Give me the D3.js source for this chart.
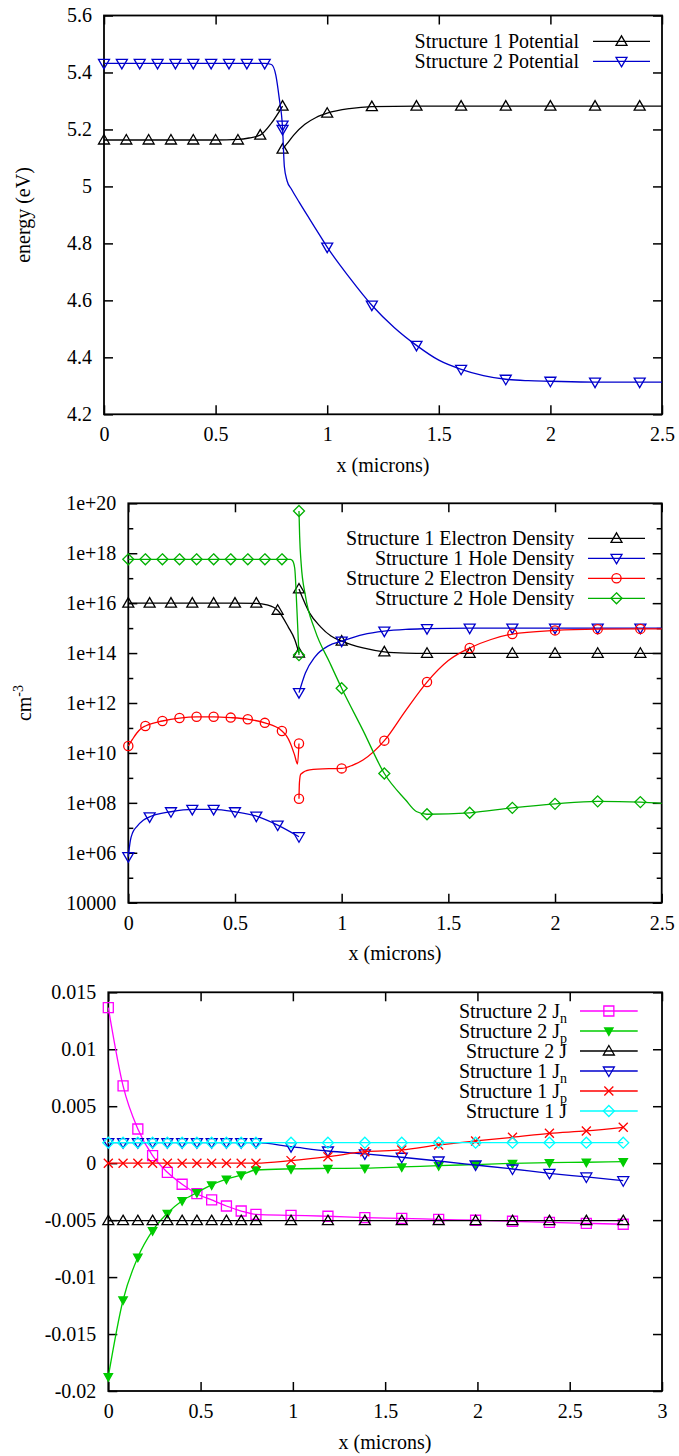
<!DOCTYPE html>
<html lang="en">
<head>
<meta charset="UTF-8">
<title>Structure potentials, densities and currents</title>
<script src="https://cdn.jsdelivr.net/npm/d3@7"></script>
<style>
  body { margin: 0; background: #fff; }
  text { font-family: "Liberation Serif", "Times New Roman", serif; font-size: 20px; fill: #000; }
</style>
</head>
<body>
<svg id="chart" width="679" height="1456"></svg>
<script>
// ---------- panel 1: potential (eV) ----------
const xTicks1 = [0, 0.5, 1, 1.5, 2, 2.5];
const yTicks1 = [4.2, 4.4, 4.6, 4.8, 5, 5.2, 5.4, 5.6];
// line segments (the two structures meet at x = 0.8)
const pot1Curve = [
  [[0,5.163],[0.1,5.163],[0.2,5.163],[0.3,5.163],[0.4,5.163],[0.5,5.163],[0.6,5.165],[0.65,5.17],[0.7,5.18],[0.75,5.222],[0.8,5.282]],
  [[0.8,5.131],[0.82,5.15],[0.85,5.18],[0.9,5.218],[0.95,5.242],[1.0,5.257],[1.1,5.273],[1.2,5.28],[1.4,5.282],[2.5,5.282]]
];
const pot1MarkX = [0,0.1,0.2,0.3,0.4,0.5,0.6,0.7,0.8,0.8,1.0,1.2,1.4,1.6,1.8,2.0,2.2,2.4];
const pot1MarkY = [5.163,5.163,5.163,5.163,5.163,5.163,5.163,5.18,5.282,5.131,5.257,5.28,5.282,5.282,5.282,5.282,5.282,5.282];
const pot2Curve = [
  [[0,5.432],[0.72,5.432],[0.75,5.428],[0.77,5.39],[0.785,5.31],[0.8,5.205],[0.808,5.07],[0.82,5.02],[0.84,4.99],[0.875,4.944],[0.92,4.887],[0.96,4.837],[1.0,4.787],[1.1,4.68],[1.2,4.583],[1.3,4.505],[1.4,4.442],[1.5,4.39],[1.6,4.358],[1.7,4.336],[1.8,4.323],[1.9,4.318],[2.0,4.316],[2.2,4.313],[2.5,4.313]]
];
const pot2MarkX = [0,0.08,0.16,0.24,0.32,0.4,0.48,0.56,0.64,0.72,0.8,0.8,1.0,1.2,1.4,1.6,1.8,2.0,2.2,2.4];
const pot2MarkY = [5.432,5.432,5.432,5.432,5.432,5.432,5.432,5.432,5.432,5.432,5.215,5.2,4.787,4.583,4.442,4.358,4.323,4.316,4.313,4.313];

// ---------- panel 2: carrier densities (cm^-3) ----------
const xTicks2 = [0, 0.5, 1, 1.5, 2, 2.5];
const yTicks2 = [1e4, 1e6, 1e8, 1e10, 1e12, 1e14, 1e16, 1e18, 1e20];
const yMinor2 = [1e5, 1e7, 1e9, 1e11, 1e13, 1e15, 1e17, 1e19];
const n1Curve = [
  [[0,1e16],[0.1,1e16],[0.2,1e16],[0.3,1e16],[0.4,1e16],[0.5,1e16],[0.6,9.8e15],[0.65,8.5e15],[0.7,5.2e15],[0.75,1.1e15],[0.78,3.5e14],[0.8,1e14]],
  [[0.8,3.7e16],[0.85,4e15],[0.9,1.15e15],[0.95,4.8e14],[1.0,3e14],[1.1,1.6e14],[1.2,1.12e14],[1.3,1e14],[1.4,9.8e13],[2.5,9.8e13]]
];
const n1MarkX = [0,0.1,0.2,0.3,0.4,0.5,0.6,0.7,0.8,0.8,1.0,1.2,1.4,1.6,1.8,2.0,2.2,2.4];
const n1MarkY = [1e16,1e16,1e16,1e16,1e16,1e16,1e16,5.2e15,1e14,3.7e16,3e14,1.12e14,9.8e13,9.8e13,9.8e13,9.8e13,9.8e13,9.8e13];
const p1Curve = [
  [[0,7e5],[0.01,3.2e6],[0.02,6.3e6],[0.04,1.12e7],[0.07,2e7],[0.1,2.75e7],[0.2,4.4e7],[0.3,5.5e7],[0.4,5.5e7],[0.5,4.4e7],[0.6,2.95e7],[0.7,1.29e7],[0.8,4.4e6]],
  [[0.8,2.6e12],[0.83,1.6e13],[0.875,7.1e13],[0.94,2e14],[1.0,3e14],[1.1,5.5e14],[1.2,7.6e14],[1.3,8.9e14],[1.4,9.5e14],[1.6,1e15],[2.5,1e15]]
];
const p1MarkX = [0,0.1,0.2,0.3,0.4,0.5,0.6,0.7,0.8,0.8,1.0,1.2,1.4,1.6,1.8,2.0,2.2,2.4];
const p1MarkY = [7e5,2.75e7,4.4e7,5.5e7,5.5e7,4.4e7,2.95e7,1.29e7,4.4e6,2.6e12,3e14,7.6e14,9.5e14,1e15,1e15,1e15,1e15,1e15];
const n2Curve = [
  [[0,1.9e10],[0.02,3.55e10],[0.04,6.3e10],[0.06,9.5e10],[0.08,1.2e11],[0.16,1.9e11],[0.24,2.5e11],[0.32,2.8e11],[0.4,2.8e11],[0.48,2.6e11],[0.56,2.24e11],[0.64,1.6e11],[0.72,7.6e10],[0.74,5e10],[0.76,2.4e10],[0.78,7.9e9],[0.793,3.6e9],[0.8,2.4e10]],
  [[0.8,1.45e8],[0.802,6.3e8],[0.808,1.4e9],[0.85,2.1e9],[0.95,2.35e9],[1.0,2.4e9],[1.05,3.2e9],[1.1,5.2e9],[1.2,3.1e10],[1.3,5e11],[1.4,6.9e12],[1.5,5e13],[1.6,1.6e14],[1.7,3.5e14],[1.8,5.8e14],[2.0,8.1e14],[2.2,9.1e14],[2.4,9.3e14],[2.5,9.3e14]]
];
const n2MarkX = [0,0.08,0.16,0.24,0.32,0.4,0.48,0.56,0.64,0.72,0.8,0.8,1.0,1.2,1.4,1.6,1.8,2.0,2.2,2.4];
const n2MarkY = [1.9e10,1.2e11,1.9e11,2.5e11,2.8e11,2.8e11,2.6e11,2.24e11,1.6e11,7.6e10,2.4e10,1.45e8,2.4e9,3.1e10,6.9e12,1.6e14,5.8e14,8.1e14,9.1e14,9.3e14];
const p2Curve = [
  [[0,5.7e17],[0.76,5.7e17],[0.77,5e17],[0.78,2.5e17],[0.79,6.3e15],[0.8,8.3e13]],
  [[0.8,4.9e19],[0.803,5e18],[0.81,4e17],[0.83,2e16],[0.875,8.3e14],[0.945,4e13],[1.0,3.9e12],[1.1,8e10],[1.2,1.5e9],[1.3,1.3e8],[1.35,4.5e7],[1.4,3.5e7],[1.6,4e7],[1.8,6.3e7],[2.0,9.1e7],[2.2,1.15e8],[2.4,1.07e8],[2.5,9.5e7]]
];
const p2MarkX = [0,0.08,0.16,0.24,0.32,0.4,0.48,0.56,0.64,0.72,0.8,0.8,1.0,1.2,1.4,1.6,1.8,2.0,2.2,2.4];
const p2MarkY = [5.7e17,5.7e17,5.7e17,5.7e17,5.7e17,5.7e17,5.7e17,5.7e17,5.7e17,5.7e17,8.3e13,4.9e19,3.9e12,1.5e9,3.5e7,4e7,6.3e7,9.1e7,1.15e8,1.07e8];

// ---------- panel 3: current densities ----------
const xTicks3 = [0, 0.5, 1, 1.5, 2, 2.5, 3];
const yTicks3 = [-0.02, -0.015, -0.01, -0.005, 0, 0.005, 0.01, 0.015];
const jX = [0,0.08,0.16,0.24,0.32,0.4,0.48,0.56,0.64,0.72,0.8,0.99,1.19,1.39,1.59,1.79,1.99,2.19,2.39,2.59,2.79];
const jn2 = [0.01365,0.00678,0.003,0.00066,-0.0008,-0.00185,-0.00268,-0.00323,-0.00376,-0.0042,-0.00449,-0.00458,-0.00466,-0.00478,-0.00484,-0.00493,-0.00501,-0.0051,-0.00519,-0.00528,-0.00536];
const jp2 = [-0.01874,-0.01201,-0.00826,-0.00592,-0.0044,-0.0033,-0.00259,-0.00191,-0.00141,-0.00104,-0.0006,-0.0005,-0.00046,-0.00043,-0.00033,-0.00022,-0.00012,-0.00002,0.00004,0.00008,0.00013];
const jt2 = [-0.00505,-0.00505,-0.00505,-0.00505,-0.00505,-0.00505,-0.00505,-0.00505,-0.00505,-0.00505,-0.00505,-0.00505,-0.00505,-0.00505,-0.00505,-0.00505,-0.00505,-0.00505,-0.00505,-0.00505,-0.00505];
const jn1 = [0.0018,0.0018,0.0018,0.0018,0.0018,0.0018,0.0018,0.0018,0.0018,0.0018,0.0018,0.00145,0.00107,0.00081,0.00052,0.00019,-0.00016,-0.00051,-0.00089,-0.00121,-0.00154];
const jp1 = [0,0,0,0,0,0,0,0,0,0,0,0.00022,0.00057,0.00101,0.00116,0.0016,0.00195,0.00227,0.00262,0.00283,0.00315];
const jt1 = [0.0018,0.0018,0.0018,0.0018,0.0018,0.0018,0.0018,0.0018,0.0018,0.0018,0.0018,0.0018,0.0018,0.0018,0.0018,0.0018,0.0018,0.0018,0.0018,0.0018,0.0018];

const BLACK = "#000000", BLUE = "#0000cc", RED = "#ff0000", GREEN2 = "#00b000", GREEN3 = "#00cc00", MAGENTA = "#ff00ff", CYAN = "#00ffff";

const svg = d3.select("#chart");

// gnuplot-ish point types
function marker(g, type, cx, cy, color) {
  let p;
  if (type === "up") p = `M${cx},${cy-5.5}L${cx+5.5},${cy+4}L${cx-5.5},${cy+4}Z`;
  else if (type === "down") p = `M${cx},${cy+5.5}L${cx+5.5},${cy-4}L${cx-5.5},${cy-4}Z`;
  else if (type === "fdown") p = `M${cx},${cy+4.5}L${cx+4.2},${cy-3}L${cx-4.2},${cy-3}Z`;
  else if (type === "diamond") p = `M${cx},${cy-5.5}L${cx+5.5},${cy}L${cx},${cy+5.5}L${cx-5.5},${cy}Z`;
  else if (type === "square") p = `M${cx-5},${cy-5}H${cx+5}V${cy+5}H${cx-5}Z`;
  else if (type === "cross") p = `M${cx-4.5},${cy-4.5}L${cx+4.5},${cy+4.5}M${cx-4.5},${cy+4.5}L${cx+4.5},${cy-4.5}`;
  if (type === "circle") {
    g.append("circle").attr("cx", cx).attr("cy", cy).attr("r", 4.6)
      .attr("fill", "none").attr("stroke", color).attr("stroke-width", 1.3);
    return;
  }
  g.append("path").attr("d", p)
    .attr("fill", type === "fdown" ? color : "none")
    .attr("stroke", color).attr("stroke-width", 1.3);
}

function drawAxes(x, y, xVals, yVals, fmtX, fmtY, yMinor) {
  const [xa, xb] = x.range(), [yb, ya] = y.range();
  const g = svg.append("g");
  const blank = () => "";
  g.append("g").attr("transform", `translate(0,${yb})`)
    .call(d3.axisBottom(x).tickValues(xVals).tickFormat(fmtX).tickSizeInner(-9).tickSizeOuter(0).tickPadding(13));
  g.append("g").attr("transform", `translate(0,${ya})`)
    .call(d3.axisTop(x).tickValues(xVals).tickFormat(blank).tickSizeInner(-9).tickSizeOuter(0));
  g.append("g").attr("transform", `translate(${xa},0)`)
    .call(d3.axisLeft(y).tickValues(yVals).tickFormat(fmtY).tickSizeInner(-9).tickSizeOuter(0).tickPadding(12));
  g.append("g").attr("transform", `translate(${xb},0)`)
    .call(d3.axisRight(y).tickValues(yVals).tickFormat(blank).tickSizeInner(-9).tickSizeOuter(0));
  if (yMinor) {
    g.append("g").attr("transform", `translate(${xa},0)`)
      .call(d3.axisLeft(y).tickValues(yMinor).tickFormat(blank).tickSizeInner(-5).tickSizeOuter(0));
    g.append("g").attr("transform", `translate(${xb},0)`)
      .call(d3.axisRight(y).tickValues(yMinor).tickFormat(blank).tickSizeInner(-5).tickSizeOuter(0));
  }
  g.selectAll(".domain").remove();
  g.selectAll("g").attr("font-size", 20).attr("font-family", null);
  g.selectAll(".tick line").attr("stroke", "#000").attr("stroke-width", 1.5);
  g.append("rect").attr("x", xa).attr("y", ya).attr("width", xb - xa).attr("height", yb - ya)
    .attr("fill", "none").attr("stroke", "#000").attr("stroke-width", 1.8);
}

function drawSeries(x, y, curve, mx, my, color, type) {
  const line = d3.line().x(d => x(d[0])).y(d => y(d[1])).curve(d3.curveMonotoneX);
  const g = svg.append("g");
  curve.forEach(seg => {
    g.append("path").attr("d", line(seg)).attr("fill", "none")
      .attr("stroke", color).attr("stroke-width", 1.3);
  });
  mx.forEach((v, i) => marker(g, type, x(v), y(my[i]), color));
}

function legendRow(xEnd, lineX0, lineX1, yRow, label, sub, color, type) {
  const t = svg.append("text").attr("x", xEnd).attr("y", yRow + 6.5).attr("text-anchor", "end").text(label);
  if (sub) t.append("tspan").attr("dy", 5).attr("font-size", 14).text(sub);
  svg.append("line").attr("x1", lineX0).attr("x2", lineX1).attr("y1", yRow).attr("y2", yRow)
    .attr("stroke", color).attr("stroke-width", 1.3);
  marker(svg, type, (lineX0 + lineX1) / 2, yRow, color);
}

const num = d => String(+d.toFixed(3));

// ---------- panel 1 ----------
const x1 = d3.scaleLinear().domain([0, 2.5]).range([104, 662]);
const y1 = d3.scaleLinear().domain([4.2, 5.6]).range([414.3, 15.5]);
drawAxes(x1, y1, xTicks1, yTicks1, num, num);
drawSeries(x1, y1, pot1Curve, pot1MarkX, pot1MarkY, BLACK, "up");
drawSeries(x1, y1, pot2Curve, pot2MarkX, pot2MarkY, BLUE, "down");
legendRow(579, 593, 650, 41.3, "Structure 1 Potential", null, BLACK, "up");
legendRow(579, 593, 650, 61.3, "Structure 2 Potential", null, BLUE, "down");
svg.append("text").attr("x", 383).attr("y", 471.5).attr("text-anchor", "middle").text("x (microns)");
svg.append("text").attr("transform", "translate(30,215) rotate(-90)").attr("text-anchor", "middle").text("energy (eV)");

// ---------- panel 2 ----------
const x2 = d3.scaleLinear().domain([0, 2.5]).range([128.3, 661.7]);
const y2 = d3.scaleLog().domain([1e4, 1e20]).range([902.7, 503.3]);
const logFmt = d => d === 1e4 ? "10000" : "1e+" + String(Math.round(Math.log10(d))).padStart(2, "0");
drawAxes(x2, y2, xTicks2, yTicks2, num, logFmt, yMinor2);
drawSeries(x2, y2, n1Curve, n1MarkX, n1MarkY, BLACK, "up");
drawSeries(x2, y2, p1Curve, p1MarkX, p1MarkY, BLUE, "down");
drawSeries(x2, y2, n2Curve, n2MarkX, n2MarkY, RED, "circle");
drawSeries(x2, y2, p2Curve, p2MarkX, p2MarkY, GREEN2, "diamond");
legendRow(574.3, 588, 645, 538.3, "Structure 1 Electron Density", null, BLACK, "up");
legendRow(574.3, 588, 645, 558.3, "Structure 1 Hole Density", null, BLUE, "down");
legendRow(574.3, 588, 645, 578.3, "Structure 2 Electron Density", null, RED, "circle");
legendRow(574.3, 588, 645, 598.3, "Structure 2 Hole Density", null, GREEN2, "diamond");
svg.append("text").attr("x", 395).attr("y", 960).attr("text-anchor", "middle").text("x (microns)");
const cm = svg.append("text").attr("transform", "translate(31,703) rotate(-90)").attr("text-anchor", "middle").text("cm");
cm.append("tspan").attr("dy", -8).attr("font-size", 14).text("-3");

// ---------- panel 3 ----------
const x3 = d3.scaleLinear().domain([0, 3]).range([108.3, 662]);
const y3 = d3.scaleLinear().domain([-0.02, 0.015]).range([1391, 992.3]);
drawAxes(x3, y3, xTicks3, yTicks3, num, num);
const pts = ys => [jX.map((v, i) => [v, ys[i]])];
drawSeries(x3, y3, pts(jn2), jX, jn2, MAGENTA, "square");
drawSeries(x3, y3, pts(jp2), jX, jp2, GREEN3, "fdown");
drawSeries(x3, y3, pts(jt2), jX, jt2, BLACK, "up");
drawSeries(x3, y3, pts(jn1), jX, jn1, BLUE, "down");
drawSeries(x3, y3, pts(jp1), jX, jp1, RED, "cross");
drawSeries(x3, y3, pts(jt1), jX, jt1, CYAN, "diamond");
legendRow(567, 580, 637.7, 1011, "Structure 2 J", "n", MAGENTA, "square");
legendRow(567, 580, 637.7, 1031, "Structure 2 J", "p", GREEN3, "fdown");
legendRow(567, 580, 637.7, 1051, "Structure 2 J", null, BLACK, "up");
legendRow(567, 580, 637.7, 1071, "Structure 1 J", "n", BLUE, "down");
legendRow(567, 580, 637.7, 1091, "Structure 1 J", "p", RED, "cross");
legendRow(567, 580, 637.7, 1111, "Structure 1 J", null, CYAN, "diamond");
svg.append("text").attr("x", 385).attr("y", 1449).attr("text-anchor", "middle").text("x (microns)");
</script>
</body>
</html>
